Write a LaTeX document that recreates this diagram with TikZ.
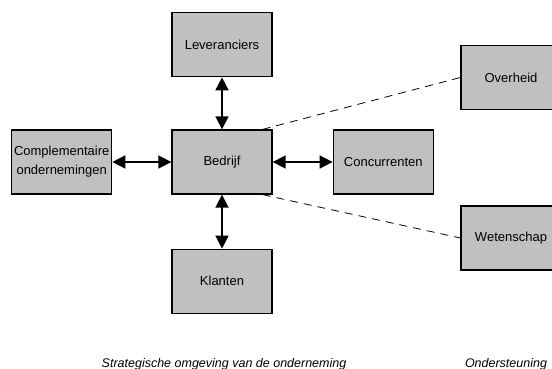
\documentclass[tikz,border=0pt]{standalone}
\usepackage{fontspec}
\setmainfont{Liberation Sans}
\usetikzlibrary{positioning, arrows.meta}

\definecolor{boxgray}{HTML}{C0C0C0}

\begin{document}
\begin{tikzpicture}[
        x=1pt, y=1pt,
        actor/.style={rectangle, draw=black, line width=1.3pt, fill=boxgray,
            minimum width=100pt, minimum height=64pt, align=center,
            font=\fontsize{13}{19}\selectfont, inner sep=0pt},
        link/.style={{Triangle[length=13pt,width=13pt]}-{Triangle[length=13pt,width=13pt]}, line width=1.6pt},
        support/.style={dashed, dash pattern=on 8pt off 6pt, line width=0.8pt},
        caption/.style={font=\fontsize{12.5}{14}\selectfont\itshape}
    ]
    \useasboundingbox (0,0) rectangle (552,-369);

    % Strategic environment
    \node[actor] (bedrijf) at (222,-162) {Bedrijf};
    \node[actor, above=52pt of bedrijf] (leveranciers) {Leveranciers};
    \node[actor, below=54pt of bedrijf] (klanten) {Klanten};
    \node[actor, right=60pt of bedrijf] (concurrenten) {Concurrenten};
    \node[actor, left=59pt of bedrijf] (complementair) {Complementaire\\ondernemingen};

    % Support
    \node[actor] (overheid) at (511,-77.5) {Overheid};
    \node[actor] (wetenschap) at (511,-238) {Wetenschap};

    % Connections
    \draw[link] (leveranciers) -- (bedrijf);
    \draw[link] (bedrijf) -- (klanten);
    \draw[link] (bedrijf) -- (concurrenten);
    \draw[link] (complementair) -- (bedrijf);
    \draw[support] ([xshift=-10pt]bedrijf.north east) -- (overheid.west);
    \draw[support] ([xshift=-10pt]bedrijf.south east) -- (wetenschap.west);

    \node[caption] (strategie) at (224,-364) {Strategische omgeving van de onderneming};
    \node[caption] (ondersteuning) at (506,-364) {Ondersteuning};
\end{tikzpicture}
\end{document}
